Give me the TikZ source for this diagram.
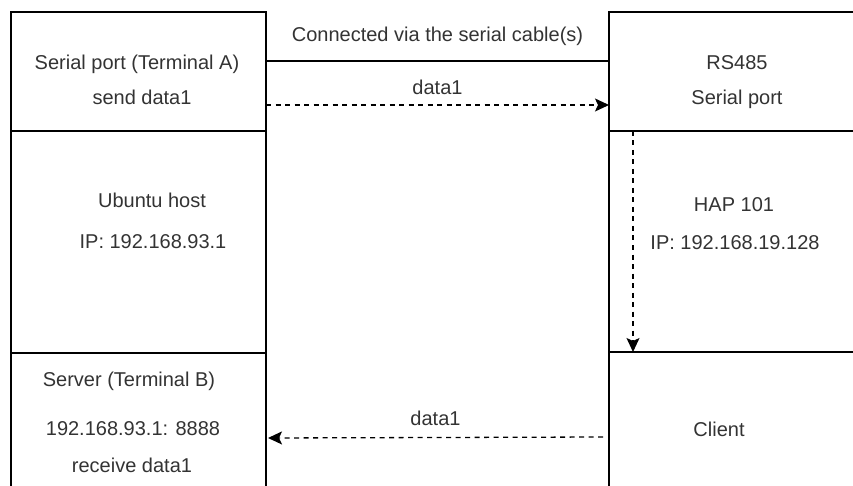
\documentclass[tikz,border=0pt]{standalone}
\usepackage{fontspec}
\setmainfont{Liberation Sans}
\usetikzlibrary{positioning,arrows.meta}
\definecolor{labelgray}{HTML}{333333}
\begin{document}
\begin{tikzpicture}[x=1pt, y=-1pt, line width=1.6pt,
  every node/.style={font=\fontsize{20}{24}\selectfont, text=labelgray},
  cell/.style={draw, outer sep=0pt, inner sep=0pt, minimum width=255pt},
  rcell/.style={cell, minimum width=300pt},
  txt/.style={anchor=base, inner sep=0pt},
  link/.style={line width=1.3pt, dash pattern=on 5pt off 4.5pt, -{Stealth[length=14pt, width=13pt, inset=3pt]}}]
\useasboundingbox (0,0) rectangle (853,486);
\clip (0,0) rectangle (853,486);
% left column
\node (serialA) [cell, anchor=north west, minimum height=119pt] at (11,12) {};
\node (ubuntu) [cell, below=0pt of serialA, minimum height=222pt] {};
\node (server) [cell, below=0pt of ubuntu, minimum height=200pt] {};
% right column
\node (rs485) [rcell, anchor=north west, minimum height=119pt] at (609,12) {};
\node (hap) [rcell, below=0pt of rs485, minimum height=221pt] {};
\node (client) [rcell, below=0pt of hap, minimum height=200pt] {};
% texts
\node (serialAname) [txt] at (137,70) {Serial port (Terminal A)};
\node (serialAsend) [txt] at (142,105) {send data1};
\node (ubuntuname) [txt] at (152,208) {Ubuntu host};
\node (ubuntuip) [txt] at (153,248) {IP: 192.168.93.1};
\node (servername) [txt] at (129,386) {Server (Terminal B)};
\node (serverport) [txt] at (133,435) {192.168.93.1: 8888};
\node (serverrecv) [txt] at (132,472) {receive data1};
\node (rs485name) [txt] at (737,70) {RS485};
\node (rs485port) [txt] at (737,105) {Serial port};
\node (hapname) [txt] at (734,212) {HAP 101};
\node (hapip) [txt] at (735,250) {IP: 192.168.19.128};
\node (clientname) [txt] at (719,436) {Client};
% connectors
\draw ([yshift=10.5pt]serialA.east) -- node[txt, yshift=19pt] (cabletext) {Connected via the serial cable(s)} ([yshift=10.5pt]rs485.west);
\draw[link] ([yshift=-33.5pt]serialA.east) -- node[txt, yshift=10pt] (sendlabel) {data1} ([yshift=-33.5pt]rs485.west);
\draw[link] ([xshift=24pt]hap.north west) -- ([xshift=24pt]hap.south west);
\draw[link] ([xshift=-6pt, yshift=15pt]client.west) -- node[txt, yshift=12pt] (recvlabel) {data1} ([xshift=2pt, yshift=15pt]server.east);
\end{tikzpicture}
\end{document}
